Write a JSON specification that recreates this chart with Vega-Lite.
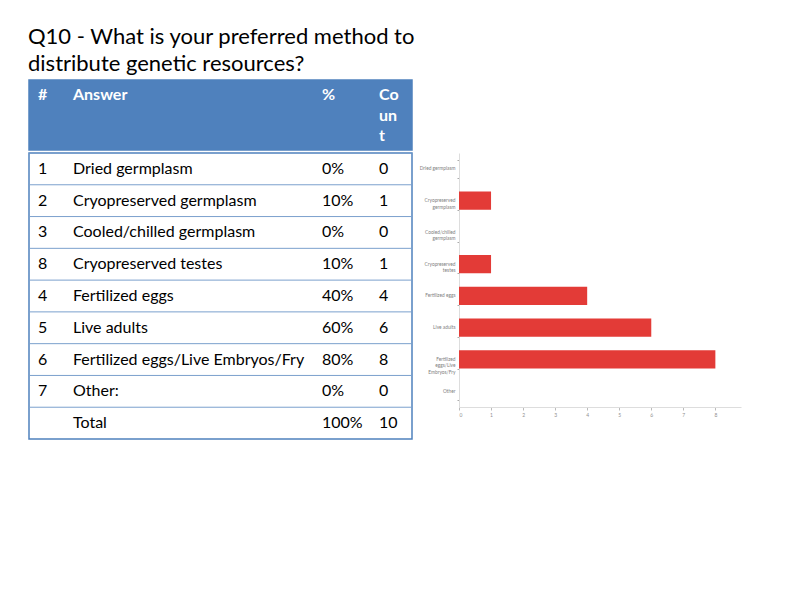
{
  "$schema": "https://vega.github.io/schema/vega-lite/v6.json",
  "padding": {"left": 27, "top": 26, "right": 5, "bottom": 5},
  "background": "white",
  "title": {
    "text": ["Q10 - What is your preferred method to", "distribute genetic resources?"],
    "anchor": "start",
    "frame": "group",
    "fontSize": 22,
    "font": "Lato",
    "fontWeight": "normal",
    "color": "black",
    "lineHeight": 27,
    "offset": 1,
    "dx": -1
  },
  "datasets": {
    "responses": [
      {"num": "1", "answer": "Dried germplasm", "pct": 0, "count": 0},
      {"num": "2", "answer": "Cryopreserved germplasm", "pct": 0.1, "count": 1},
      {"num": "3", "answer": "Cooled/chilled germplasm", "pct": 0, "count": 0},
      {"num": "8", "answer": "Cryopreserved testes", "pct": 0.1, "count": 1},
      {"num": "4", "answer": "Fertilized eggs", "pct": 0.4, "count": 4},
      {"num": "5", "answer": "Live adults", "pct": 0.6, "count": 6},
      {"num": "6", "answer": "Fertilized eggs/Live Embryos/Fry", "pct": 0.8, "count": 8},
      {"num": "7", "answer": "Other:", "pct": 0, "count": 0},
      {"num": "", "answer": "Total", "pct": 1, "count": 10}
    ]
  },
  "hconcat": [
    {
      "vconcat": [
        {
          "width": 383,
          "height": 70,
          "view": {"fill": "#4f81bd", "stroke": "#4f81bd", "strokeWidth": 1.5},
          "data": {"values": [{}]},
          "layer": [
            {"mark": {"type": "text", "text": "#", "align": "left", "baseline": "alphabetic", "dx": -182.5, "dy": -15, "font": "Lato", "fontSize": 16, "fontWeight": "bold", "color": "white"}, "encoding": {}},
            {"mark": {"type": "text", "text": "Answer", "align": "left", "baseline": "alphabetic", "dx": -147.5, "dy": -15, "font": "Lato", "fontSize": 16, "fontWeight": "bold", "color": "white"}, "encoding": {}},
            {"mark": {"type": "text", "text": "%", "align": "left", "baseline": "alphabetic", "dx": 101.5, "dy": -15, "font": "Lato", "fontSize": 16, "fontWeight": "bold", "color": "white"}, "encoding": {}},
            {"mark": {"type": "text", "text": ["Co", "un", "t"], "lineHeight": 20.5, "align": "left", "baseline": "alphabetic", "dx": 158.5, "dy": -15, "font": "Lato", "fontSize": 16, "fontWeight": "bold", "color": "white"}, "encoding": {}}
          ]
        },
        {
          "width": 383,
          "height": 286,
          "view": {"stroke": "#4f81bd", "strokeWidth": 1.5},
          "data": {"name": "responses"},
          "encoding": {
            "y": {"field": "answer", "type": "nominal", "sort": null, "axis": null, "scale": {"paddingInner": 0, "paddingOuter": 0}}
          },
          "layer": [
            {"mark": {"type": "rule", "color": "#7ba0cd", "strokeWidth": 1}, "encoding": {"y": {"field": "answer", "type": "nominal", "sort": null, "bandPosition": 0}}},
            {"mark": {"type": "text", "align": "left", "baseline": "middle", "dx": -182.5, "font": "Lato", "fontSize": 16, "color": "black"}, "encoding": {"text": {"field": "num", "type": "nominal"}}},
            {"mark": {"type": "text", "align": "left", "baseline": "middle", "dx": -147.5, "font": "Lato", "fontSize": 16, "color": "black"}, "encoding": {"text": {"field": "answer", "type": "nominal"}}},
            {"mark": {"type": "text", "align": "left", "baseline": "middle", "dx": 101.5, "font": "Lato", "fontSize": 16, "color": "black"}, "encoding": {"text": {"field": "pct", "type": "quantitative", "format": ".0%"}}},
            {"mark": {"type": "text", "align": "left", "baseline": "middle", "dx": 158.5, "font": "Lato", "fontSize": 16, "color": "black"}, "encoding": {"text": {"field": "count", "type": "quantitative"}}}
          ]
        }
      ],
      "spacing": 0
    },
    {
      "width": 282,
      "height": 327,
      "view": {"stroke": null},
      "data": {"name": "responses"},
      "transform": [{"filter": "datum.answer != 'Total'"}],
      "mark": {"type": "bar", "color": "#e33b37"},
      "encoding": {
        "y": {
          "field": "answer",
          "type": "nominal",
          "sort": null,
          "title": null,
          "scale": {"range": [73, 327], "paddingInner": 0.42, "paddingOuter": 0.21},
          "axis": {
            "labelExpr": "datum.value == 'Cryopreserved germplasm' ? ['Cryopreserved', 'germplasm'] : datum.value == 'Cooled/chilled germplasm' ? ['Cooled/chilled', 'germplasm'] : datum.value == 'Cryopreserved testes' ? ['Cryopreserved', 'testes'] : datum.value == 'Fertilized eggs/Live Embryos/Fry' ? ['Fertilized', 'eggs/Live', 'Embryos/Fry'] : datum.value == 'Other:' ? 'Other' : datum.label",
            "labelFontSize": 4.8,
            "labelLineHeight": 6.5,
            "labelColor": "#808080",
            "labelPadding": 2,
            "domainColor": "#dddddd",
            "tickColor": "#aaaaaa",
            "tickSize": 2,
            "tickBand": "extent",
            "labelFont": "Lato"
          }
        },
        "x": {
          "field": "count",
          "type": "quantitative",
          "title": null,
          "scale": {"domain": [0, 8.8], "nice": false},
          "axis": {
            "values": [0, 1, 2, 3, 4, 5, 6, 7, 8],
            "grid": false,
            "labelFontSize": 5,
            "labelColor": "#909090",
            "labelPadding": 2,
            "domainColor": "#dddddd",
            "tickColor": "#bbbbbb",
            "tickSize": 3,
            "labelFont": "Lato"
          }
        }
      }
    }
  ],
  "spacing": 5
}
